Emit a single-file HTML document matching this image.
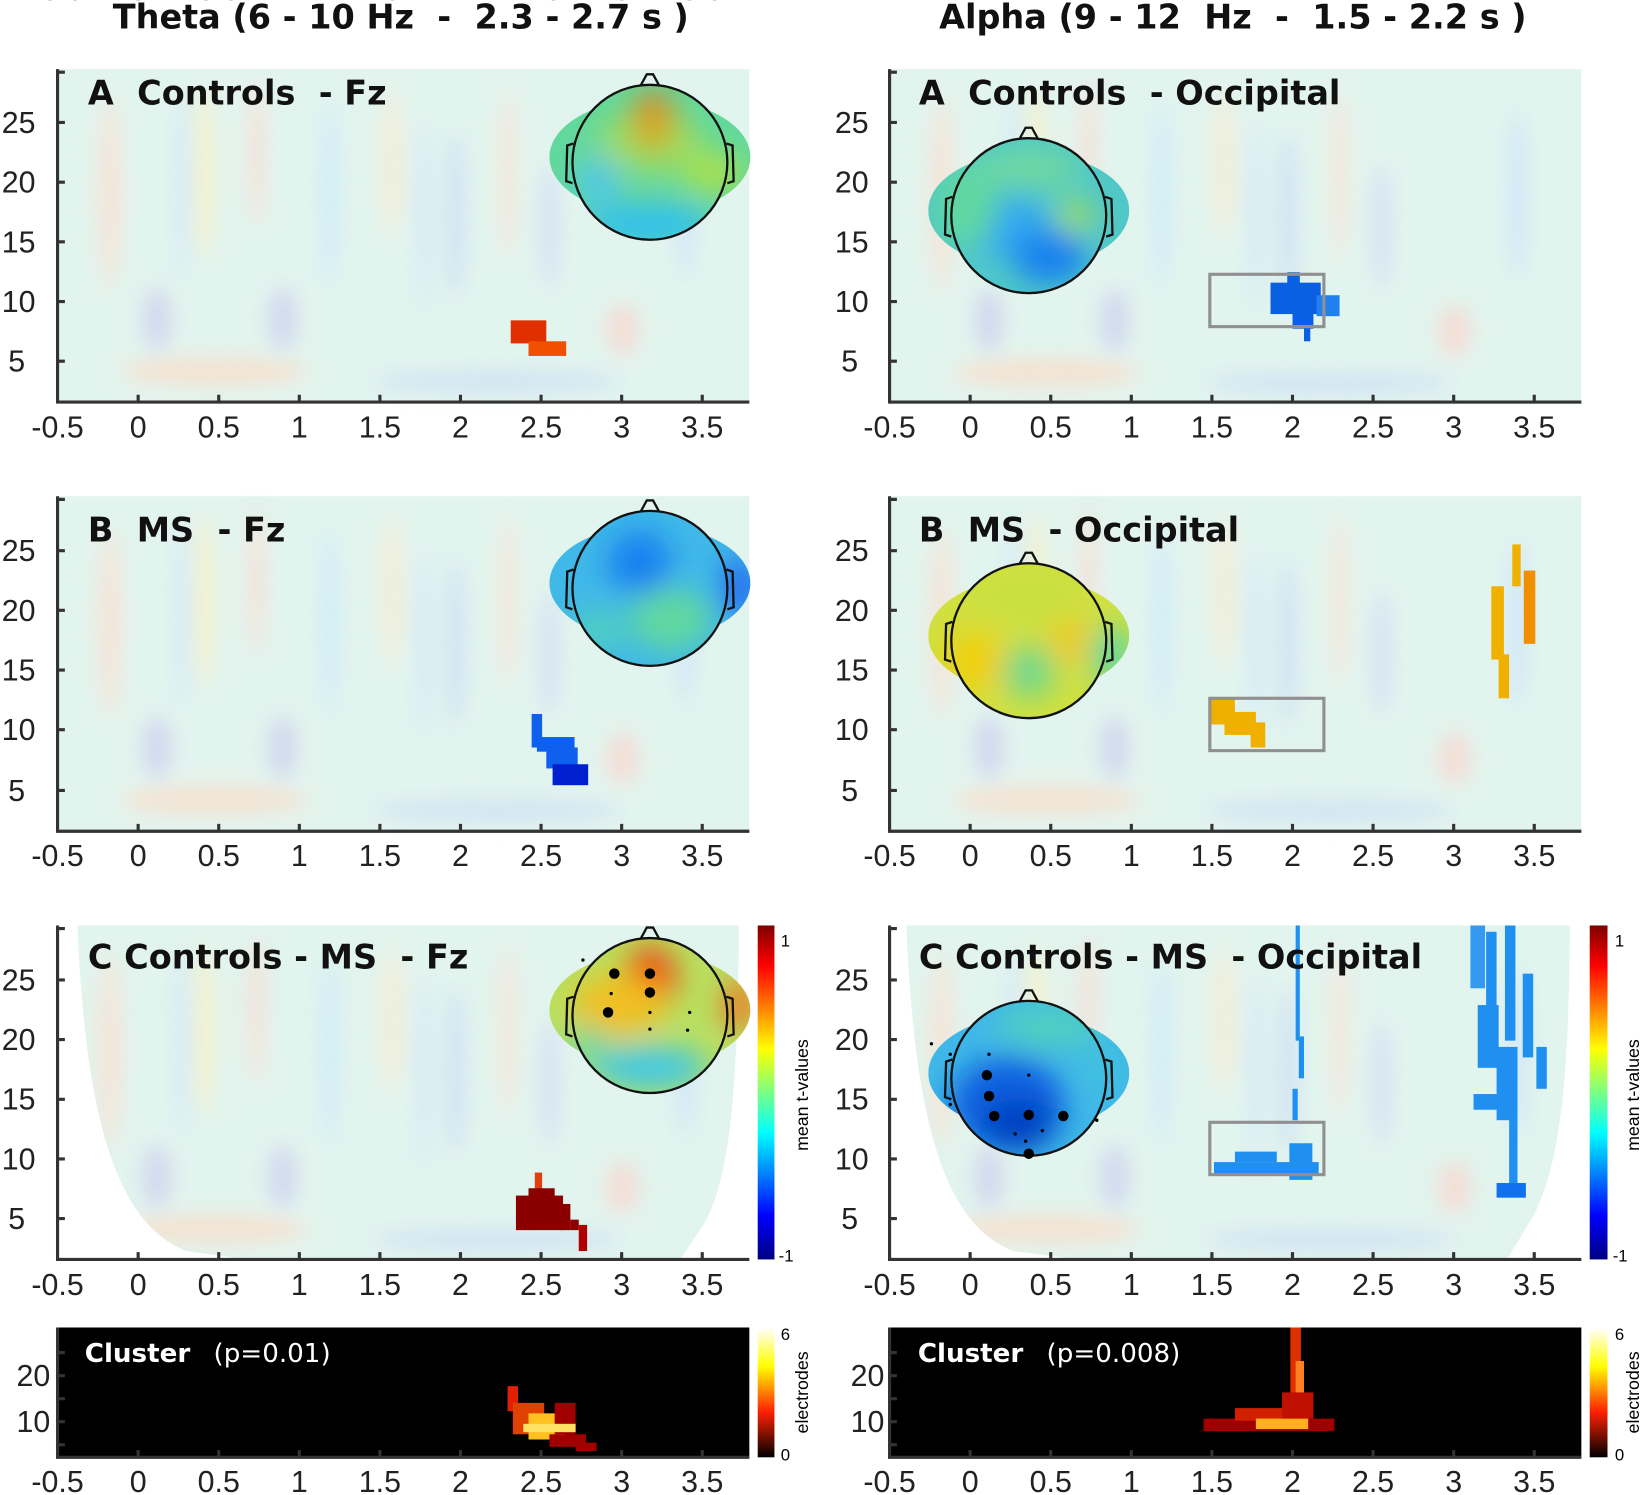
<!DOCTYPE html>
<html><head><meta charset="utf-8"><style>
html,body{margin:0;padding:0;background:#fff}
svg{display:block}
text{font-family:"Liberation Sans",sans-serif;white-space:pre}
.t{font-size:29px;fill:#222}
.ttl{font-family:"DejaVu Sans",sans-serif;font-size:32px;font-weight:bold;fill:#111}
.lab{font-family:"DejaVu Sans",sans-serif;font-size:32px;font-weight:bold;fill:#111}
.ax{stroke:#333;stroke-width:3;fill:none}
</style></head><body>
<svg width="1641" height="1495" viewBox="0 0 1568 1428" preserveAspectRatio="none" xml:space="preserve">
<defs>
<filter id="bl" x="-50%" y="-50%" width="200%" height="200%"><feGaussianBlur stdDeviation="9"/></filter>
<filter id="bl2" x="-50%" y="-50%" width="200%" height="200%"><feGaussianBlur stdDeviation="14"/></filter>
<linearGradient id="jet" x1="0" y1="0" x2="0" y2="1">
<stop offset="0" stop-color="#800000"/><stop offset="0.12" stop-color="#ff0000"/><stop offset="0.37" stop-color="#ffff00"/><stop offset="0.62" stop-color="#00ffff"/><stop offset="0.87" stop-color="#0000ff"/><stop offset="1" stop-color="#000080"/></linearGradient>
<linearGradient id="hot" x1="0" y1="0" x2="0" y2="1">
<stop offset="0" stop-color="#ffffff"/><stop offset="0.3" stop-color="#ffff00"/><stop offset="0.65" stop-color="#ff2000"/><stop offset="1" stop-color="#000000"/></linearGradient>
<g id="streaks">
<rect x="0" y="0" width="661" height="320" fill="#e2f4ee"/>
<g filter="url(#bl)" opacity="0.6">
<ellipse cx="50" cy="120" rx="12" ry="90" fill="#ffdccc"/>
<ellipse cx="95" cy="240" rx="14" ry="30" fill="#c8c8f0"/>
<ellipse cx="120" cy="110" rx="8" ry="90" fill="#cfe4fb"/>
<ellipse cx="140" cy="100" rx="10" ry="80" fill="#fff0b8"/>
<ellipse cx="190" cy="80" rx="9" ry="70" fill="#ffd8d0"/>
<ellipse cx="215" cy="240" rx="14" ry="30" fill="#c8c8f0"/>
<ellipse cx="260" cy="120" rx="10" ry="90" fill="#c8e8ff"/>
<ellipse cx="320" cy="90" rx="10" ry="70" fill="#ffe8c8"/>
<ellipse cx="350" cy="140" rx="8" ry="90" fill="#d0e4fb"/>
<ellipse cx="380" cy="140" rx="10" ry="80" fill="#c8d8f8"/>
<ellipse cx="430" cy="100" rx="9" ry="80" fill="#ffe0d0"/>
<ellipse cx="470" cy="150" rx="10" ry="60" fill="#d0d8f8"/>
<ellipse cx="540" cy="250" rx="16" ry="25" fill="#ffd0c8"/>
<ellipse cx="600" cy="120" rx="10" ry="80" fill="#c8e0ff"/>
<ellipse cx="150" cy="290" rx="90" ry="14" fill="#ffd8c0"/>
<ellipse cx="420" cy="300" rx="120" ry="10" fill="#c8d8f8"/>
</g>
</g>
<clipPath id="hc"><ellipse cx="0" cy="-5" rx="96" ry="55"/><circle cx="0" cy="0" r="74"/></clipPath>
<g id="headline">
<circle cx="0" cy="0" r="74" fill="none" stroke="#111" stroke-width="2.2"/>
<path d="M-9,-73 L-3,-84 L3,-84 L9,-73" fill="none" stroke="#111" stroke-width="2.2"/>
<path d="M-73,-18 L-79,-16 L-80,18 L-74,20" fill="none" stroke="#111" stroke-width="2.2"/>
<path d="M73,-18 L79,-16 L80,18 L74,20" fill="none" stroke="#111" stroke-width="2.2"/>
</g>
</defs>

<text class="ttl" x="383" y="27" text-anchor="middle">Theta (6 - 10 Hz  -  2.3 - 2.7 s )</text>
<text class="ttl" x="1178" y="27" text-anchor="middle">Alpha (9 - 12  Hz  -  1.5 - 2.2 s )</text>

<!-- A left -->
<g transform="translate(55,66) scale(1,0.995)"><use href="#streaks"/></g>
<rect x="488" y="306" width="34" height="22" fill="#e03000"/>
<rect x="505" y="326" width="36" height="14" fill="#f05000"/>
<g transform="translate(621,155)">
<g clip-path="url(#hc)"><rect x="-100" y="-80" width="200" height="160" fill="#62d89c"/>
<g filter="url(#bl2)"><ellipse cx="3" cy="-38" rx="22" ry="28" fill="#f06010"/><ellipse cx="0" cy="-20" rx="50" ry="30" fill="#c0e040" opacity=".6"/><ellipse cx="0" cy="60" rx="60" ry="20" fill="#30c0f0"/><ellipse cx="-50" cy="20" rx="20" ry="25" fill="#50c8e8"/><ellipse cx="60" cy="10" rx="30" ry="20" fill="#a8e050"/></g></g>
<use href="#headline"/></g>

<!-- B left -->
<g transform="translate(55,474)"><use href="#streaks"/></g>
<g fill="#1060f0"><rect x="508" y="682" width="10" height="32"/><rect x="513" y="704" width="36" height="14"/><rect x="522" y="714" width="30" height="20"/><rect x="528" y="730" width="34" height="20" fill="#0020d0"/></g>
<g transform="translate(621,562)">
<g clip-path="url(#hc)"><rect x="-100" y="-80" width="200" height="160" fill="#40b8e8"/>
<g filter="url(#bl2)"><ellipse cx="-10" cy="-25" rx="30" ry="30" fill="#1880f0"/><ellipse cx="20" cy="30" rx="40" ry="30" fill="#60d8a0"/><ellipse cx="-50" cy="40" rx="25" ry="20" fill="#50d0c0"/><ellipse cx="85" cy="0" rx="15" ry="30" fill="#2060f0"/></g></g>
<use href="#headline"/></g>

<!-- C left -->
<rect x="55" y="884" width="661" height="319" fill="#fff"/>
<clipPath id="ucl"><path d="M74,884 L706,884 C705,1060 695,1130 672,1170 L650,1203 L238,1203 L178,1195 C115,1170 82,1080 74,884 Z"/></clipPath>
<g clip-path="url(#ucl)"><g transform="translate(55,884)"><use href="#streaks"/></g></g>
<g fill="#8a0000"><rect x="511" y="1120" width="7" height="25" fill="#e04010"/><rect x="505" y="1135" width="25" height="20"/><rect x="493" y="1142" width="45" height="33"/><rect x="535" y="1150" width="10" height="25"/><rect x="545" y="1165" width="8" height="10"/><rect x="553" y="1170" width="8" height="25" fill="#b00000"/></g>
<g transform="translate(621,970)">
<g clip-path="url(#hc)"><rect x="-100" y="-80" width="200" height="160" fill="#b8e060"/>
<g filter="url(#bl2)"><ellipse cx="0" cy="-35" rx="25" ry="30" fill="#f03a10"/><ellipse cx="-30" cy="-10" rx="45" ry="30" fill="#f0c020"/><ellipse cx="85" cy="-10" rx="15" ry="25" fill="#f07020"/><ellipse cx="0" cy="50" rx="55" ry="20" fill="#40c8e8"/><ellipse cx="-60" cy="30" rx="20" ry="20" fill="#70d8a0"/></g></g>
<use href="#headline"/>
<g fill="#000"><circle cx="-34" cy="-40" r="5"/><circle cx="0" cy="-40" r="5"/><circle cx="0" cy="-22" r="5"/><circle cx="-40" cy="-3" r="5"/><circle cx="-37" cy="-21" r="1.6"/><circle cx="0" cy="-3" r="1.6"/><circle cx="38" cy="-3" r="1.6"/><circle cx="0" cy="13" r="1.6"/><circle cx="36" cy="14" r="1.6"/><circle cx="-64" cy="-53" r="1.6"/></g></g>
<rect x="724" y="884" width="16" height="319" fill="url(#jet)"/>
<text x="746" y="904" font-size="16">1</text><text x="744" y="1205" font-size="16">-1</text>
<text x="772" y="1046" font-size="17" transform="rotate(-90 772 1046)" text-anchor="middle">mean t-values</text>

<!-- Cluster left -->
<rect x="55" y="1268" width="661" height="124" fill="#000"/>
<g fill="#a00000"><rect x="485" y="1324" width="10" height="24" fill="#e02000"/><rect x="490" y="1340" width="30" height="30" fill="#e04000"/><rect x="505" y="1350" width="35" height="25" fill="#ffc020"/><rect x="530" y="1340" width="20" height="30"/><rect x="525" y="1370" width="35" height="12"/><rect x="550" y="1378" width="20" height="8"/><rect x="500" y="1360" width="50" height="8" fill="#ffe060"/></g>
<text x="81" y="1301" font-size="25" font-weight="bold" fill="#fff" style="font-family:'DejaVu Sans',sans-serif">Cluster</text><text x="204" y="1301" font-size="25" fill="#fff" style="font-family:'DejaVu Sans',sans-serif">(p=0.01)</text>
<rect x="724" y="1268" width="16" height="124" fill="url(#hot)"/>
<text x="746" y="1280" font-size="16">6</text><text x="746" y="1395" font-size="16">0</text>
<text x="772" y="1330" font-size="17" transform="rotate(-90 772 1330)" text-anchor="middle">electrodes</text>

<!-- A right -->
<g transform="translate(850,66)"><use href="#streaks"/></g>
<g fill="#0a60e0"><rect x="1214" y="270" width="48" height="30"/><rect x="1230" y="260" width="12" height="12"/><rect x="1258" y="282" width="22" height="20" fill="#2080f0"/><rect x="1235" y="298" width="20" height="16"/><rect x="1246" y="310" width="6" height="16"/></g>
<rect x="1156" y="262" width="109" height="50" fill="none" stroke="#909090" stroke-width="3"/>
<g transform="translate(983,206)">
<g clip-path="url(#hc)"><rect x="-100" y="-80" width="200" height="160" fill="#50c8c8"/>
<g filter="url(#bl2)"><ellipse cx="-20" cy="10" rx="40" ry="30" fill="#30a8f0"/><ellipse cx="20" cy="40" rx="35" ry="25" fill="#1880f0"/><ellipse cx="45" cy="0" rx="15" ry="15" fill="#b0e040"/><ellipse cx="-60" cy="-10" rx="30" ry="40" fill="#60d8a0"/><ellipse cx="0" cy="-45" rx="50" ry="20" fill="#70d8a0"/></g></g>
<use href="#headline"/></g>

<!-- B right -->
<g transform="translate(850,474)"><use href="#streaks"/></g>
<g fill="#f0b000"><rect x="1155" y="666" width="25" height="26"/><rect x="1170" y="680" width="30" height="22"/><rect x="1195" y="690" width="14" height="24"/><rect x="1425" y="560" width="12" height="70"/><rect x="1432" y="625" width="10" height="42"/><rect x="1445" y="520" width="8" height="40"/><rect x="1456" y="545" width="11" height="70" fill="#f09000"/></g>
<rect x="1156" y="667" width="109" height="50" fill="none" stroke="#909090" stroke-width="3"/>
<g transform="translate(983,612)">
<g clip-path="url(#hc)"><rect x="-100" y="-80" width="200" height="160" fill="#d0e040"/>
<g filter="url(#bl2)"><ellipse cx="-50" cy="20" rx="30" ry="30" fill="#f0d010"/><ellipse cx="0" cy="30" rx="25" ry="25" fill="#70d890"/><ellipse cx="40" cy="0" rx="20" ry="20" fill="#f0c820"/><ellipse cx="0" cy="-40" rx="50" ry="20" fill="#c8e040"/><ellipse cx="80" cy="15" rx="20" ry="30" fill="#60d8a0"/></g></g>
<use href="#headline"/></g>

<!-- C right -->
<rect x="850" y="884" width="661" height="319" fill="#fff"/>
<clipPath id="ucr"><path d="M866,884 L1500,884 C1499,1040 1490,1110 1466,1160 L1440,1203 L1030,1203 L968,1195 C905,1170 874,1080 866,884 Z"/></clipPath>
<g clip-path="url(#ucr)"><g transform="translate(850,884)"><use href="#streaks"/></g></g>
<g fill="#2090f0"><rect x="1238" y="884" width="4" height="110"/><rect x="1241" y="990" width="5" height="40"/><rect x="1235" y="1040" width="5" height="30"/><rect x="1160" y="1110" width="100" height="12"/><rect x="1180" y="1100" width="40" height="10"/><rect x="1232" y="1092" width="22" height="35"/>
<rect x="1405" y="884" width="14" height="60" opacity=".9"/><rect x="1420" y="890" width="10" height="90"/><rect x="1438" y="884" width="10" height="110"/><rect x="1455" y="930" width="10" height="80"/><rect x="1412" y="960" width="20" height="60"/><rect x="1430" y="1000" width="20" height="70"/><rect x="1408" y="1045" width="30" height="15"/><rect x="1468" y="1000" width="10" height="40"/><rect x="1442" y="1060" width="8" height="70"/><rect x="1430" y="1130" width="28" height="14" fill="#1070f0"/></g>
<rect x="1156" y="1072" width="109" height="50" fill="none" stroke="#909090" stroke-width="3"/>
<g transform="translate(983,1030)">
<g clip-path="url(#hc)"><rect x="-100" y="-80" width="200" height="160" fill="#40b8e8"/>
<g filter="url(#bl2)"><ellipse cx="-20" cy="25" rx="55" ry="45" fill="#1060e0"/><ellipse cx="-10" cy="45" rx="35" ry="25" fill="#0040c0"/><ellipse cx="20" cy="-50" rx="50" ry="20" fill="#50d0c0"/><ellipse cx="70" cy="-10" rx="25" ry="25" fill="#40c0e0"/></g></g>
<use href="#headline"/>
<g fill="#000"><circle cx="-40" cy="-3" r="5"/><circle cx="-38" cy="17" r="5"/><circle cx="-33" cy="36" r="5"/><circle cx="0" cy="35" r="5"/><circle cx="33" cy="36" r="5"/><circle cx="0" cy="72" r="5"/><circle cx="-93" cy="-33" r="1.6"/><circle cx="-75" cy="-23" r="1.6"/><circle cx="-38" cy="-23" r="1.6"/><circle cx="0" cy="-3" r="1.6"/><circle cx="-13" cy="53" r="1.6"/><circle cx="13" cy="50" r="1.6"/><circle cx="-3" cy="60" r="1.6"/><circle cx="65" cy="40" r="1.6"/><circle cx="-75" cy="25" r="1.6"/></g></g>
<rect x="1519" y="884" width="17" height="319" fill="url(#jet)"/>
<text x="1543" y="904" font-size="16">1</text><text x="1541" y="1205" font-size="16">-1</text>
<text x="1566" y="1046" font-size="17" transform="rotate(-90 1566 1046)" text-anchor="middle">mean t-values</text>

<!-- Cluster right -->
<rect x="850" y="1268" width="661" height="124" fill="#000"/>
<g fill="#a00000"><rect x="1150" y="1355" width="125" height="12"/><rect x="1180" y="1345" width="60" height="12" fill="#d02000"/><rect x="1200" y="1355" width="50" height="10" fill="#ffb020"/><rect x="1233" y="1268" width="10" height="80" fill="#e03000"/><rect x="1238" y="1300" width="8" height="50" fill="#ff8020"/><rect x="1225" y="1330" width="30" height="25" fill="#c01000"/></g>
<text x="877" y="1301" font-size="25" font-weight="bold" fill="#fff" style="font-family:'DejaVu Sans',sans-serif">Cluster</text><text x="1000" y="1301" font-size="25" fill="#fff" style="font-family:'DejaVu Sans',sans-serif">(p=0.008)</text>
<rect x="1519" y="1268" width="17" height="124" fill="url(#hot)"/>
<text x="1543" y="1280" font-size="16">6</text><text x="1543" y="1395" font-size="16">0</text>
<text x="1566" y="1330" font-size="17" transform="rotate(-90 1566 1330)" text-anchor="middle">electrodes</text>

<!-- Panel labels -->
<text class="lab" x="84" y="100">A  Controls  - Fz</text>
<text class="lab" x="84" y="517">B  MS  - Fz</text>
<text class="lab" x="84" y="925">C Controls - MS  - Fz</text>
<text class="lab" x="878" y="100">A  Controls  - Occipital</text>
<text class="lab" x="878" y="517">B  MS  - Occipital</text>
<text class="lab" x="878" y="925">C Controls - MS  - Occipital</text>

<!-- Axes -->
<g class="ax">
<path d="M55,66 V384 H716"/><path d="M55,474 V794 H716"/><path d="M55,884 V1203 H716"/><path d="M55,1268 V1392 H716"/>
<path d="M850,66 V384 H1511"/><path d="M850,474 V794 H1511"/><path d="M850,884 V1203 H1511"/><path d="M850,1268 V1392 H1511"/>
</g>
<g stroke="#333" stroke-width="3">
<path d="M55,117h7M55,174h7M55,231h7M55,288h7M55,345h7M55,69h7"/>
<path d="M55,526h7M55,583h7M55,640h7M55,697h7M55,755h7M55,477h7"/>
<path d="M55,936h7M55,993h7M55,1050h7M55,1107h7M55,1164h7M55,887h7"/>
<path d="M55,1292h7M55,1314h7M55,1336h7M55,1358h7M55,1380h7"/>
<path d="M850,117h7M850,174h7M850,231h7M850,288h7M850,345h7M850,69h7"/>
<path d="M850,526h7M850,583h7M850,640h7M850,697h7M850,755h7M850,477h7"/>
<path d="M850,936h7M850,993h7M850,1050h7M850,1107h7M850,1164h7M850,887h7"/>
<path d="M850,1292h7M850,1314h7M850,1336h7M850,1358h7M850,1380h7"/>
</g>
<g stroke="#333" stroke-width="3">
<path d="M132,384v-7M209,384v-7M286,384v-7M363,384v-7M440,384v-7M517,384v-7M594,384v-7M671,384v-7"/>
<path d="M132,794v-7M209,794v-7M286,794v-7M363,794v-7M440,794v-7M517,794v-7M594,794v-7M671,794v-7"/>
<path d="M132,1203v-7M209,1203v-7M286,1203v-7M363,1203v-7M440,1203v-7M517,1203v-7M594,1203v-7M671,1203v-7"/>
<path d="M132,1392v-7M209,1392v-7M286,1392v-7M363,1392v-7M440,1392v-7M517,1392v-7M594,1392v-7M671,1392v-7"/>
<path d="M927,384v-7M1004,384v-7M1081,384v-7M1158,384v-7M1235,384v-7M1312,384v-7M1389,384v-7M1466,384v-7"/>
<path d="M927,794v-7M1004,794v-7M1081,794v-7M1158,794v-7M1235,794v-7M1312,794v-7M1389,794v-7M1466,794v-7"/>
<path d="M927,1203v-7M1004,1203v-7M1081,1203v-7M1158,1203v-7M1235,1203v-7M1312,1203v-7M1389,1203v-7M1466,1203v-7"/>
<path d="M927,1392v-7M1004,1392v-7M1081,1392v-7M1158,1392v-7M1235,1392v-7M1312,1392v-7M1389,1392v-7M1466,1392v-7"/>
</g>

<g class="t" text-anchor="end">
<text x="34" y="127">25</text><text x="34" y="184">20</text><text x="34" y="241">15</text><text x="34" y="298">10</text><text x="24" y="355">5</text>
<text x="34" y="536">25</text><text x="34" y="593">20</text><text x="34" y="650">15</text><text x="34" y="707">10</text><text x="24" y="765">5</text>
<text x="34" y="946">25</text><text x="34" y="1003">20</text><text x="34" y="1060">15</text><text x="34" y="1117">10</text><text x="24" y="1174">5</text>
<text x="48" y="1324">20</text><text x="48" y="1368">10</text>
<text x="830" y="127">25</text><text x="830" y="184">20</text><text x="830" y="241">15</text><text x="830" y="298">10</text><text x="820" y="355">5</text>
<text x="830" y="536">25</text><text x="830" y="593">20</text><text x="830" y="650">15</text><text x="830" y="707">10</text><text x="820" y="765">5</text>
<text x="830" y="946">25</text><text x="830" y="1003">20</text><text x="830" y="1060">15</text><text x="830" y="1117">10</text><text x="820" y="1174">5</text>
<text x="845" y="1324">20</text><text x="845" y="1368">10</text>
</g>
<g class="t" text-anchor="middle">
<g id="xl"><text x="55" y="0">-0.5</text><text x="132" y="0">0</text><text x="209" y="0">0.5</text><text x="286" y="0">1</text><text x="363" y="0">1.5</text><text x="440" y="0">2</text><text x="517" y="0">2.5</text><text x="594" y="0">3</text><text x="671" y="0">3.5</text></g>
</g>
<g class="t" text-anchor="middle">
<use href="#xl" y="418"/><use href="#xl" y="827"/><use href="#xl" y="1237"/><use href="#xl" y="1425"/>
<use href="#xl" x="795" y="418"/><use href="#xl" x="795" y="827"/><use href="#xl" x="795" y="1237"/><use href="#xl" x="795" y="1425"/>
</g>
</svg>
</body></html>
